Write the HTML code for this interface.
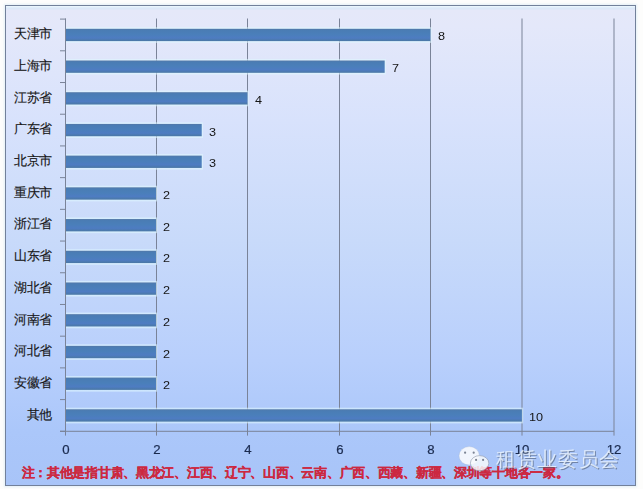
<!DOCTYPE html>
<html><head><meta charset="utf-8"><style>
html,body{margin:0;padding:0;background:#fdfdfc;width:643px;height:489px;overflow:hidden;font-family:"Liberation Sans",sans-serif}
#frame{position:absolute;left:5px;top:5px;width:629px;height:479px;border:1px solid #72809a;box-shadow:0 0 2px 1px rgba(205,228,242,0.55);
background:linear-gradient(to bottom,#ecf7fd 0px,#e6f2fc 1px,#d9e8f8 2px,#dde8f8 3px,#e5e8f9 4.5px,#e4e8fa 20px,#d8e2fc 115px,#c8dafa 235px,#b8cffc 355px,#abc7fa 425px,#a8c4f8 479px)}
svg{position:absolute;left:0;top:0}
.vl{position:absolute;font-size:11px;line-height:14px;color:#151515;transform:scaleX(1.15);transform-origin:0 0}
.cl{position:absolute;right:591.3px;font-size:12.5px;letter-spacing:-0.55px;line-height:18px;color:#161616;-webkit-text-stroke:0.15px #161616;white-space:nowrap}
.xl{position:absolute;top:442.5px;transform:scaleX(1.1);width:40px;text-align:center;font-size:12px;line-height:14px;color:#1a2a4e;-webkit-text-stroke:0.2px #1a2a4e}
#note{position:absolute;left:21.5px;top:464.8px;font-size:13px;letter-spacing:-0.28px;line-height:16px;color:#cc2840;font-weight:bold;-webkit-text-stroke:0.2px #cc2840;white-space:nowrap}
#wm{position:absolute;left:496px;top:446.5px;font-size:20px;letter-spacing:0.7px;line-height:24px;color:rgba(236,244,252,0.82);white-space:nowrap;text-shadow:1px 1px 0.6px rgba(75,88,112,0.6);filter:blur(0.25px)}
</style></head><body>
<div id="frame"></div>
<svg width="643" height="489" viewBox="0 0 643 489">
<defs><linearGradient id="bg" x1="0" y1="0" x2="0" y2="1">
<stop offset="0" stop-color="#5478a6"/><stop offset="0.12" stop-color="#4a7cb4"/><stop offset="0.45" stop-color="#4a7fba"/><stop offset="0.75" stop-color="#4e7cc2"/><stop offset="1" stop-color="#4a78a4"/>
</linearGradient></defs>
<line x1="156.5" y1="18.50" x2="156.5" y2="435.6" stroke="#7a8398" stroke-width="1"/><line x1="247.5" y1="18.50" x2="247.5" y2="435.6" stroke="#7a8398" stroke-width="1"/><line x1="339.5" y1="18.50" x2="339.5" y2="435.6" stroke="#7a8398" stroke-width="1"/><line x1="430.5" y1="18.50" x2="430.5" y2="435.6" stroke="#7a8398" stroke-width="1"/><line x1="522.0" y1="18.50" x2="522.0" y2="435.6" stroke="#7a8398" stroke-width="1"/><line x1="614.0" y1="18.50" x2="614.0" y2="435.6" stroke="#7a8398" stroke-width="1"/><line x1="60" y1="19.10" x2="66" y2="19.10" stroke="#7a8398" stroke-width="1"/><line x1="60" y1="50.81" x2="66" y2="50.81" stroke="#7a8398" stroke-width="1"/><line x1="60" y1="82.52" x2="66" y2="82.52" stroke="#7a8398" stroke-width="1"/><line x1="60" y1="114.22" x2="66" y2="114.22" stroke="#7a8398" stroke-width="1"/><line x1="60" y1="145.93" x2="66" y2="145.93" stroke="#7a8398" stroke-width="1"/><line x1="60" y1="177.64" x2="66" y2="177.64" stroke="#7a8398" stroke-width="1"/><line x1="60" y1="209.35" x2="66" y2="209.35" stroke="#7a8398" stroke-width="1"/><line x1="60" y1="241.05" x2="66" y2="241.05" stroke="#7a8398" stroke-width="1"/><line x1="60" y1="272.76" x2="66" y2="272.76" stroke="#7a8398" stroke-width="1"/><line x1="60" y1="304.47" x2="66" y2="304.47" stroke="#7a8398" stroke-width="1"/><line x1="60" y1="336.18" x2="66" y2="336.18" stroke="#7a8398" stroke-width="1"/><line x1="60" y1="367.88" x2="66" y2="367.88" stroke="#7a8398" stroke-width="1"/><line x1="60" y1="399.59" x2="66" y2="399.59" stroke="#7a8398" stroke-width="1"/><line x1="60" y1="431.30" x2="66" y2="431.30" stroke="#7a8398" stroke-width="1"/><rect x="66" y="27.20" width="365.72" height="15.70" fill="rgba(222,246,255,0.6)"/><rect x="65.5" y="28.80" width="364.92" height="12.3" fill="url(#bg)"/><rect x="66" y="58.91" width="319.98" height="15.70" fill="rgba(222,246,255,0.6)"/><rect x="65.5" y="60.51" width="319.18" height="12.3" fill="url(#bg)"/><rect x="66" y="90.62" width="182.76" height="15.70" fill="rgba(222,246,255,0.6)"/><rect x="65.5" y="92.22" width="181.96" height="12.3" fill="url(#bg)"/><rect x="66" y="122.33" width="137.02" height="15.70" fill="rgba(222,246,255,0.6)"/><rect x="65.5" y="123.93" width="136.22" height="12.3" fill="url(#bg)"/><rect x="66" y="154.03" width="137.02" height="15.70" fill="rgba(222,246,255,0.6)"/><rect x="65.5" y="155.63" width="136.22" height="12.3" fill="url(#bg)"/><rect x="66" y="185.74" width="91.28" height="15.70" fill="rgba(222,246,255,0.6)"/><rect x="65.5" y="187.34" width="90.48" height="12.3" fill="url(#bg)"/><rect x="66" y="217.45" width="91.28" height="15.70" fill="rgba(222,246,255,0.6)"/><rect x="65.5" y="219.05" width="90.48" height="12.3" fill="url(#bg)"/><rect x="66" y="249.16" width="91.28" height="15.70" fill="rgba(222,246,255,0.6)"/><rect x="65.5" y="250.76" width="90.48" height="12.3" fill="url(#bg)"/><rect x="66" y="280.87" width="91.28" height="15.70" fill="rgba(222,246,255,0.6)"/><rect x="65.5" y="282.47" width="90.48" height="12.3" fill="url(#bg)"/><rect x="66" y="312.57" width="91.28" height="15.70" fill="rgba(222,246,255,0.6)"/><rect x="65.5" y="314.17" width="90.48" height="12.3" fill="url(#bg)"/><rect x="66" y="344.28" width="91.28" height="15.70" fill="rgba(222,246,255,0.6)"/><rect x="65.5" y="345.88" width="90.48" height="12.3" fill="url(#bg)"/><rect x="66" y="375.99" width="91.28" height="15.70" fill="rgba(222,246,255,0.6)"/><rect x="65.5" y="377.59" width="90.48" height="12.3" fill="url(#bg)"/><rect x="66" y="407.70" width="457.20" height="15.70" fill="rgba(222,246,255,0.6)"/><rect x="65.5" y="409.30" width="456.40" height="12.3" fill="url(#bg)"/><line x1="65.5" y1="18.50" x2="65.5" y2="435.6" stroke="#7a8398" stroke-width="1"/><line x1="60" y1="431.3" x2="614" y2="431.3" stroke="#7a8398" stroke-width="1"/>
</svg>
<div class="vl" style="top:29.45px;left:437.72px">8</div><div class="cl" style="top:25.15px">天津市</div><div class="vl" style="top:61.16px;left:391.98px">7</div><div class="cl" style="top:56.86px">上海市</div><div class="vl" style="top:92.87px;left:254.76px">4</div><div class="cl" style="top:88.57px">江苏省</div><div class="vl" style="top:124.58px;left:209.02px">3</div><div class="cl" style="top:120.28px">广东省</div><div class="vl" style="top:156.28px;left:209.02px">3</div><div class="cl" style="top:151.98px">北京市</div><div class="vl" style="top:187.99px;left:163.28px">2</div><div class="cl" style="top:183.69px">重庆市</div><div class="vl" style="top:219.70px;left:163.28px">2</div><div class="cl" style="top:215.40px">浙江省</div><div class="vl" style="top:251.41px;left:163.28px">2</div><div class="cl" style="top:247.11px">山东省</div><div class="vl" style="top:283.12px;left:163.28px">2</div><div class="cl" style="top:278.82px">湖北省</div><div class="vl" style="top:314.82px;left:163.28px">2</div><div class="cl" style="top:310.52px">河南省</div><div class="vl" style="top:346.53px;left:163.28px">2</div><div class="cl" style="top:342.23px">河北省</div><div class="vl" style="top:378.24px;left:163.28px">2</div><div class="cl" style="top:373.94px">安徽省</div><div class="vl" style="top:409.95px;left:529.20px">10</div><div class="cl" style="top:405.65px">其他</div><div class="xl" style="left:45.50px">0</div><div class="xl" style="left:136.50px">2</div><div class="xl" style="left:227.50px">4</div><div class="xl" style="left:319.50px">6</div><div class="xl" style="left:410.50px">8</div><div class="xl" style="left:502.00px">10</div><div class="xl" style="left:594.00px">12</div>
<div id="note">注：其他是指甘肃、黑龙江、江西、辽宁、山西、云南、广西、西藏、新疆、深圳等十地各一家。</div>
<svg style="position:absolute;left:450px;top:440px;filter:blur(0.3px)" width="45" height="36" viewBox="450 440 45 36">
<ellipse cx="469.2" cy="455.8" rx="10.2" ry="9.2" fill="rgba(248,250,253,0.9)" stroke="rgba(170,185,205,0.5)" stroke-width="0.6"/>
<circle cx="465.1" cy="452.7" r="1.1" fill="#7c8494"/><circle cx="473.7" cy="452.7" r="1.1" fill="#7c8494"/>
<ellipse cx="479.6" cy="463.2" rx="9.2" ry="7.6" fill="rgba(248,250,253,0.84)" stroke="rgba(140,150,170,0.75)" stroke-width="0.8"/>
<circle cx="476.1" cy="459.9" r="1.1" fill="#7c8494"/><circle cx="483.1" cy="459.9" r="1.1" fill="#7c8494"/>
</svg>
<div id="wm">租赁业委员会</div>
</body></html>
